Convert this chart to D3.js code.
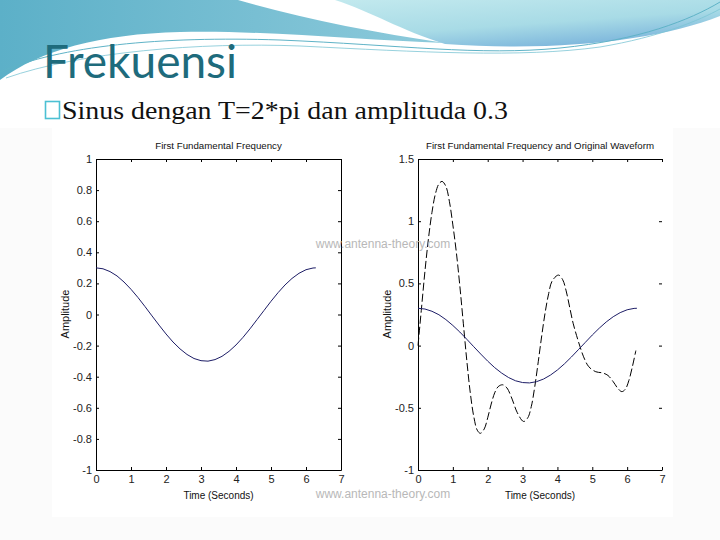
<!DOCTYPE html>
<html><head><meta charset="utf-8">
<script src="https://cdn.jsdelivr.net/npm/d3@7"></script>
<style>html,body{margin:0;padding:0;background:#fff;}svg{display:block;}</style>
</head><body>
<script>
// ---- data ----
const slideTitle = "Frekuensi";
const bulletText = "Sinus dengan T=2*pi dan amplituda 0.3";
const leftTitle = "First Fundamental Frequency";
const rightTitle = "First Fundamental Frequency and Original Waveform";
const xLabel = "Time (Seconds)";
const yLabel = "Amplitude";
const watermark = "www.antenna-theory.com";
const xTicks = [0,1,2,3,4,5,6,7];
const leftYTicks = [-1,-0.8,-0.6,-0.4,-0.2,0,0.2,0.4,0.6,0.8,1];
const rightYTicks = [-1,-0.5,0,0.5,1,1.5];
// fundamental (solid) curve
const fundT = [0,0.2,0.4,0.6,0.8,1.0,1.2,1.4,1.6,1.8,2.0,2.2,2.4,2.6,2.8,3.0,3.2,3.4,3.6,3.8,4.0,4.2,4.4,4.6,4.8,5.0,5.2,5.4,5.6,5.8,6.0,6.2,6.28];
const fundV = [0.300,0.294,0.276,0.248,0.209,0.162,0.109,0.051,-0.009,-0.068,-0.125,-0.177,-0.221,-0.257,-0.283,-0.297,-0.300,-0.290,-0.269,-0.237,-0.196,-0.147,-0.092,-0.033,0.026,0.085,0.140,0.190,0.232,0.265,0.288,0.299,0.300];
// original waveform (dashed)
const origT = [0,0.1,0.2,0.3,0.4,0.5,0.6,0.69,0.8,0.9,1.0,1.1,1.2,1.3,1.4,1.5,1.6,1.7,1.79,1.9,2.0,2.1,2.2,2.3,2.43,2.55,2.7,2.85,3.03,3.15,3.25,3.35,3.45,3.55,3.65,3.75,3.85,4.03,4.15,4.25,4.35,4.45,4.55,4.65,4.75,4.9,5.1,5.3,5.45,5.6,5.75,5.85,5.95,6.05,6.15,6.25];
const origV = [0.0,0.3,0.6,0.86,1.07,1.22,1.30,1.32,1.28,1.16,0.97,0.75,0.48,0.18,-0.12,-0.38,-0.57,-0.68,-0.705,-0.67,-0.58,-0.47,-0.38,-0.33,-0.315,-0.34,-0.43,-0.54,-0.61,-0.58,-0.49,-0.33,-0.13,0.08,0.27,0.42,0.52,0.567,0.53,0.44,0.31,0.18,0.08,-0.01,-0.09,-0.17,-0.21,-0.22,-0.24,-0.29,-0.35,-0.37,-0.35,-0.28,-0.17,-0.04];

const W=720,H=540;
const svg=d3.select("body").append("svg").attr("width",W).attr("height",H);
const defs=svg.append("defs");
const g1=defs.append("linearGradient").attr("id","tealG").attr("x1","0").attr("y1","0").attr("x2","1").attr("y2","0");
g1.append("stop").attr("offset","0").attr("stop-color","#5cb0c8");
g1.append("stop").attr("offset","1").attr("stop-color","#8dcadb");
const g2=defs.append("linearGradient").attr("id","cyanG").attr("x1","0").attr("y1","0").attr("x2","0.6").attr("y2","1");
g2.append("stop").attr("offset","0").attr("stop-color","#c2e9ee");
g2.append("stop").attr("offset","0.6").attr("stop-color","#a8dbe6");
g2.append("stop").attr("offset","1").attr("stop-color","#7db6dc");

// slide background + image area
svg.append("rect").attr("width",W).attr("height",H).attr("fill","#fbfbfb");
svg.append("rect").attr("x",0).attr("y",0).attr("width",W).attr("height",128).attr("fill","#fff");
svg.append("rect").attr("x",52).attr("y",128).attr("width",621).attr("height",389).attr("fill","#fff");

// top decoration
svg.append("path").attr("d","M0,0 H238 C300,18 370,32 445,43 C360,40 262,30 180,32 C100,34 40,50 0,80 Z").attr("fill","url(#tealG)");
svg.append("path").attr("d","M335,0 H720 V16 C660,40 560,52 445,44 C400,30 372,12 335,0 Z").attr("fill","url(#cyanG)");
svg.append("path").attr("d","M0,72 C60,46 160,36 280,40 C400,45 480,56 560,48 C640,40 690,20 720,2").attr("fill","none").attr("stroke","#5fb3c7").attr("stroke-width",1);
svg.append("path").attr("d","M6,78 C80,52 200,42 300,46 C420,52 520,58 600,47 C660,37 700,20 720,9").attr("fill","none").attr("stroke","#7cc5d4").attr("stroke-width",0.8);

// slide title and bullet
svg.append("text").attr("x",43).attr("y",78).attr("font-family","Lato, 'Open Sans', sans-serif").attr("font-size",46).attr("fill","#1e6b7c").text(slideTitle);
svg.append("rect").attr("x",45.5).attr("y",101.5).attr("width",14).attr("height",17).attr("fill","#fff").attr("stroke","#4cc0d3").attr("stroke-width",1.6);
svg.append("text").attr("x",62).attr("y",119).attr("font-family","'Liberation Serif', 'DejaVu Serif', serif").attr("font-size",26).attr("textLength",446).attr("lengthAdjust","spacingAndGlyphs").attr("fill","#111").text(bulletText);

const tickFont="'Liberation Sans Narrow','Liberation Sans',Arial,sans-serif";
function plot(cfg){
  const x=d3.scaleLinear().domain([0,7]).range([cfg.x0,cfg.x1]);
  const y=d3.scaleLinear().domain(cfg.yDom).range([470,159]);
  const g=svg.append("g");
  const ax=g.append("g").attr("transform","translate(0,470)").call(d3.axisBottom(x).tickValues(xTicks).tickSizeInner(-3).tickSizeOuter(0).tickPadding(5).tickFormat(d3.format("d")));
  const ay=g.append("g").attr("transform",`translate(${cfg.x0},0)`).call(d3.axisLeft(y).tickValues(cfg.yTicks).tickSizeInner(-3).tickSizeOuter(0).tickPadding(4).tickFormat(d=>String(d)));
  const at=g.append("g").attr("transform","translate(0,159)").call(d3.axisTop(x).tickValues(xTicks).tickSizeInner(-3).tickSizeOuter(0).tickFormat(""));
  const ar=g.append("g").attr("transform",`translate(${cfg.x1},0)`).call(d3.axisRight(y).tickValues(cfg.yTicks).tickSizeInner(-3).tickSizeOuter(0).tickFormat(""));
  if(!cfg.rightLine) ar.select(".domain").remove();
  [ax,ay,at,ar].forEach(a=>{a.selectAll(".domain").attr("stroke","#000");a.selectAll("line").attr("stroke","#000");a.selectAll("text").attr("font-family",tickFont).attr("font-size",11).attr("fill","#222");});
  ax.selectAll("text").attr("dy","0.71em");
  g.append("text").attr("x",(cfg.x0+cfg.x1)/2).attr("y",149).attr("text-anchor","middle").attr("font-family",tickFont).attr("font-size",9.7).attr("fill","#111").text(cfg.title);
  g.append("text").attr("x",(cfg.x0+cfg.x1)/2).attr("y",499).attr("text-anchor","middle").attr("font-family",tickFont).attr("font-size",10).attr("fill","#111").text(xLabel);
  g.append("text").attr("transform",`translate(${cfg.x0-27},314) rotate(-90)`).attr("text-anchor","middle").attr("font-family",tickFont).attr("font-size",11).attr("fill","#111").text(yLabel);
  if(cfg.orig){
    g.append("path").datum(d3.zip(origT,origV)).attr("d",d3.line().x(d=>x(d[0])).y(d=>y(d[1])).curve(d3.curveCatmullRom)).attr("fill","none").attr("stroke","#000").attr("stroke-width",1).attr("stroke-dasharray","8,3");
  }
  g.append("path").datum(d3.zip(fundT,fundV)).attr("d",d3.line().x(d=>x(d[0])).y(d=>y(d[1]))).attr("fill","none").attr("stroke","#1d1d66").attr("stroke-width",1);
}
plot({x0:96,x1:341,yDom:[-1,1],yTicks:leftYTicks,title:leftTitle,rightLine:true,orig:false});
plot({x0:418,x1:662,yDom:[-1,1.5],yTicks:rightYTicks,title:rightTitle,rightLine:false,orig:true});

[[383,248],[383,498]].forEach(p=>{
  svg.append("text").attr("x",p[0]).attr("y",p[1]).attr("text-anchor","middle").attr("font-family","'Liberation Sans',Arial,sans-serif").attr("font-size",12).attr("fill","#b8b8b8").text(watermark);
});
</script>
</body></html>
